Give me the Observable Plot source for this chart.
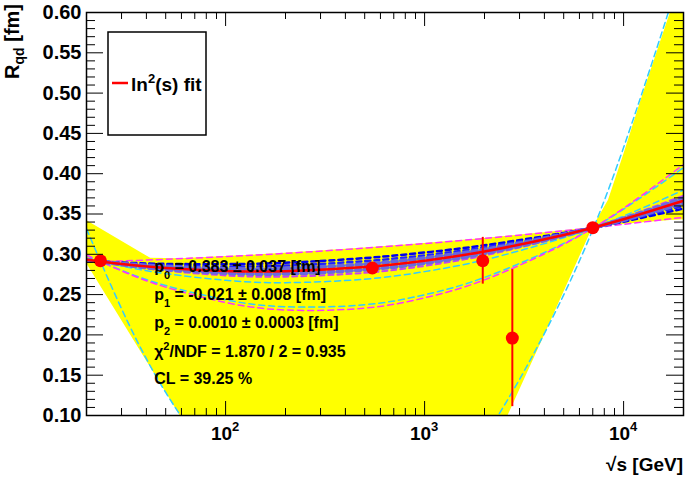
<!DOCTYPE html>
<html><head><meta charset="utf-8">
<script src="https://cdn.jsdelivr.net/npm/d3@7"></script>
<script src="https://cdn.jsdelivr.net/npm/@observablehq/plot@0.6"></script>
<style>
body{margin:0;background:#fff;}
svg{font-family:"Liberation Sans",Arial,sans-serif;}
</style>
</head><body><div id="chart"></div>
<script>
// ---- data ----
const xSamples = [20, 30, 50, 100, 200, 500, 1000, 2000, 5000, 10000, 20000];
const fitLine        = [0.2932, 0.2879, 0.2830, 0.2793, 0.2791, 0.2842, 0.2921, 0.3035, 0.3239, 0.3435, 0.3665];
const magentaFlat    = [0.2905, 0.2918, 0.2938, 0.2972, 0.3012, 0.3077, 0.3133, 0.3197, 0.3292, 0.3372, 0.3459];
const blueA          = [0.2919, 0.2898, 0.2881, 0.2878, 0.2895, 0.2953, 0.3022, 0.3112, 0.3264, 0.3405, 0.3567];
const blueB          = [0.2923, 0.2891, 0.2864, 0.2848, 0.2860, 0.2915, 0.2987, 0.3086, 0.3256, 0.3415, 0.3601];
const slateA         = [0.2928, 0.2885, 0.2846, 0.2819, 0.2824, 0.2877, 0.2953, 0.3059, 0.3247, 0.3425, 0.3634];
const slateB         = [0.2936, 0.2874, 0.2814, 0.2767, 0.2759, 0.2809, 0.2891, 0.3012, 0.3232, 0.3444, 0.3694];
const purpleA        = [0.2940, 0.2867, 0.2797, 0.2738, 0.2723, 0.2770, 0.2856, 0.2986, 0.3223, 0.3454, 0.3728];
const cyanMid        = [0.2949, 0.2854, 0.2760, 0.2678, 0.2648, 0.2691, 0.2785, 0.2931, 0.3206, 0.3475, 0.3797];
const cyanLow        = [0.2986, 0.2801, 0.2613, 0.2436, 0.2349, 0.2374, 0.2498, 0.2713, 0.3135, 0.3560, 0.4075];
const magentaLow     = [0.2991, 0.2794, 0.2593, 0.2403, 0.2309, 0.2332, 0.2460, 0.2683, 0.3125, 0.3571, 0.4113];
const cyanSteep      = [0.3316, 0.2325, 0.1286, 0.0250, -0.0353, -0.0489, -0.0091, 0.0738, 0.2496, 0.4326, 0.6588];

const bandX    = [20, 42, 59, 70, 100, 200, 500, 1000, 2000, 2300, 2630, 4000, 7000, 8400, 10000, 12500, 17200, 20000];
const bandLow  = [0.289, 0.1595, 0.10, 0.0, 0.0, 0.0, 0.0, 0.0, 0.0, 0.0, 0.10, 0.199, 0.333, 0.335, 0.337, 0.339, 0.342, 0.343];
const bandHigh = [0.342, 0.295, 0.2946, 0.2953, 0.2972, 0.3012, 0.3077, 0.3133, 0.3197, 0.3211, 0.3224, 0.3268, 0.333, 0.367, 0.423, 0.498, 0.600, 0.640];

const ptX   = [23.5, 546, 1960, 2760, 7000];
const ptY   = [0.292, 0.283, 0.292, 0.196, 0.333];
const ptErr = [0.004, 0.005, 0.029, 0.085, 0.004];

const yMajor = [0.10, 0.15, 0.20, 0.25, 0.30, 0.35, 0.40, 0.45, 0.50, 0.55, 0.60];
const xMajor = [100, 1000, 10000];
const xExp   = ["2", "3", "4"];
const xMinor = [30,40,50,60,70,80,90,200,300,400,500,600,700,800,900,2000,3000,4000,5000,6000,7000,8000,9000];
const fitLines = [
  "p|0| = 0.383 ± 0.037 [fm]",
  "p|1| = -0.021 ± 0.008 [fm]",
  "p|2| = 0.0010 ± 0.0003 [fm]"
];
const chiText = ["χ", "2", "/NDF = 1.870 / 2 = 0.935"];
const clText = "CL = 39.25 %";
const legendText = ["ln", "2", "(s) fit"];

// ---- chart ----
const W = 685, H = 479, mT = 12, mL = 86, mR = 2, mB = 64;
const FW = W - mL - mR, FH = H - mT - mB;
const yMinor = d3.range(0.10, 0.6001, 0.01).map(v => +v.toFixed(2)).filter(v => !yMajor.some(m => Math.abs(m - v) < 1e-6));
const bold = {fontWeight: "bold"};

function dashed(arr, stroke, width, dash) {
  return Plot.line(xSamples, {x: d => d, y: (d, i) => arr[i], curve: "natural", stroke, strokeWidth: width, strokeDasharray: dash, clip: true});
}

const plot = Plot.plot({
  width: W, height: H,
  marginTop: mT, marginLeft: mL, marginRight: mR, marginBottom: mB,
  style: {fontFamily: "Liberation Sans, Arial, sans-serif", background: "white", color: "black"},
  x: {type: "log", domain: [20, 20000], axis: null},
  y: {domain: [0.1, 0.6], axis: null},
  marks: [
    Plot.areaY(bandX, {x: d => d, y1: (d, i) => bandLow[i], y2: (d, i) => bandHigh[i], fill: "#ffff00", clip: true}),
    dashed(magentaFlat, "#ff33ff", 1.5, "6,4"),
    dashed(cyanSteep, "#33ccff", 1.5, "6,4"),
    dashed(cyanLow, "#33ccff", 1.5, "6,4"),
    dashed(magentaLow, "#ff33ff", 1.5, "6,4"),
    dashed(cyanMid, "#33ccff", 1.5, "6,4"),
    dashed(purpleA, "#cc44ee", 2, "5,4"),
    dashed(blueA, "#0000ee", 2.5, "5,4"),
    dashed(blueB, "#2020ff", 2.5, "5,4"),
    dashed(slateA, "#6666dd", 4, "5,4"),
    dashed(slateB, "#6a6ae0", 4, "5,4"),
    Plot.line(xSamples, {x: d => d, y: (d, i) => fitLine[i], curve: "natural", stroke: "#ff0000", strokeWidth: 2.5, clip: true}),
    Plot.ruleX(ptX, {x: d => d, y1: (d, i) => ptY[i] - ptErr[i], y2: (d, i) => ptY[i] + ptErr[i], stroke: "#ff0000", strokeWidth: 2}),
    Plot.dot(ptX, {x: d => d, y: (d, i) => ptY[i], r: 6.5, fill: "#ff0000", stroke: "none"}),
    // ticks (inside the frame)
    Plot.tickY(yMajor, {y: d => d, insetRight: FW - 17, stroke: "black"}),
    Plot.tickY(yMinor, {y: d => d, insetRight: FW - 9, stroke: "black"}),
    Plot.tickY(yMajor, {y: d => d, insetLeft: FW - 17, stroke: "black"}),
    Plot.tickY(yMinor, {y: d => d, insetLeft: FW - 9, stroke: "black"}),
    Plot.tickX(xMajor, {x: d => d, insetTop: FH - 14, stroke: "black"}),
    Plot.tickX(xMinor, {x: d => d, insetTop: FH - 7, stroke: "black"}),
    Plot.tickX(xMajor, {x: d => d, insetBottom: FH - 14, stroke: "black"}),
    Plot.tickX(xMinor, {x: d => d, insetBottom: FH - 7, stroke: "black"}),
    Plot.axisY(yMajor, {anchor: "left", tickSize: 0, tickPadding: 5, tickFormat: d => d.toFixed(2), fontSize: 20, ...bold}),
    Plot.text(xMajor, {x: d => d, text: () => "10", frameAnchor: "bottom", dx: -4, dy: 24, fontSize: 19, ...bold}),
    Plot.text(xMajor, {x: d => d, text: (d, i) => xExp[i], frameAnchor: "bottom", dx: 10, dy: 15, fontSize: 13, ...bold}),
    Plot.frame({stroke: "black", strokeWidth: 1.5})
  ]
});
document.getElementById("chart").appendChild(plot);

// ---- texts with sub/superscripts ----
const svg = d3.select(plot);
const sx = plot.scale("x"), sy = plot.scale("y");
const g = svg.append("g").attr("font-weight", "bold").attr("fill", "black").attr("text-anchor", "start");

const annX = sx.apply(44);
const baselines = [272, 300, 328];
fitLines.forEach((s, i) => {
  const [a, sub, rest] = s.split("|");
  const t = g.append("text").attr("x", annX).attr("y", baselines[i]).attr("font-size", 16);
  t.append("tspan").text(a);
  t.append("tspan").attr("font-size", 11).attr("dy", 7).text(sub);
  t.append("tspan").attr("dy", -7).text(rest);
});
{
  const t = g.append("text").attr("x", annX).attr("y", 357).attr("font-size", 16);
  t.append("tspan").text(chiText[0]);
  t.append("tspan").attr("font-size", 11).attr("dy", -7).text(chiText[1]);
  t.append("tspan").attr("dy", 7).text(chiText[2]);
}
g.append("text").attr("x", annX).attr("y", 384).attr("font-size", 16).text(clText);

// legend
const lg = svg.append("g").attr("text-anchor", "start");
lg.append("rect").attr("x", 108).attr("y", 32).attr("width", 98).attr("height", 103)
  .attr("fill", "white").attr("stroke", "black").attr("stroke-width", 1.5);
lg.append("line").attr("x1", 112).attr("x2", 128).attr("y1", 83).attr("y2", 83)
  .attr("stroke", "#ff0000").attr("stroke-width", 2.5);
{
  const t = lg.append("text").attr("x", 131).attr("y", 91).attr("font-size", 19).attr("font-weight", "bold");
  t.append("tspan").text(legendText[0]);
  t.append("tspan").attr("font-size", 13).attr("dy", -8).text(legendText[1]);
  t.append("tspan").attr("dy", 8).text(legendText[2]);
}

// axis titles
{
  const t = svg.append("text").attr("transform", "translate(19,4) rotate(-90)")
    .attr("text-anchor", "end").attr("font-size", 20).attr("font-weight", "bold");
  t.append("tspan").text("R");
  t.append("tspan").attr("font-size", 14).attr("dy", 5).text("qd");
  t.append("tspan").attr("dy", -5).text(" [fm]");
}
svg.append("text").attr("x", 683).attr("y", 471).attr("text-anchor", "end")
  .attr("font-size", 19).attr("font-weight", "bold").text("√s [GeV]");
</script>
</body></html>
